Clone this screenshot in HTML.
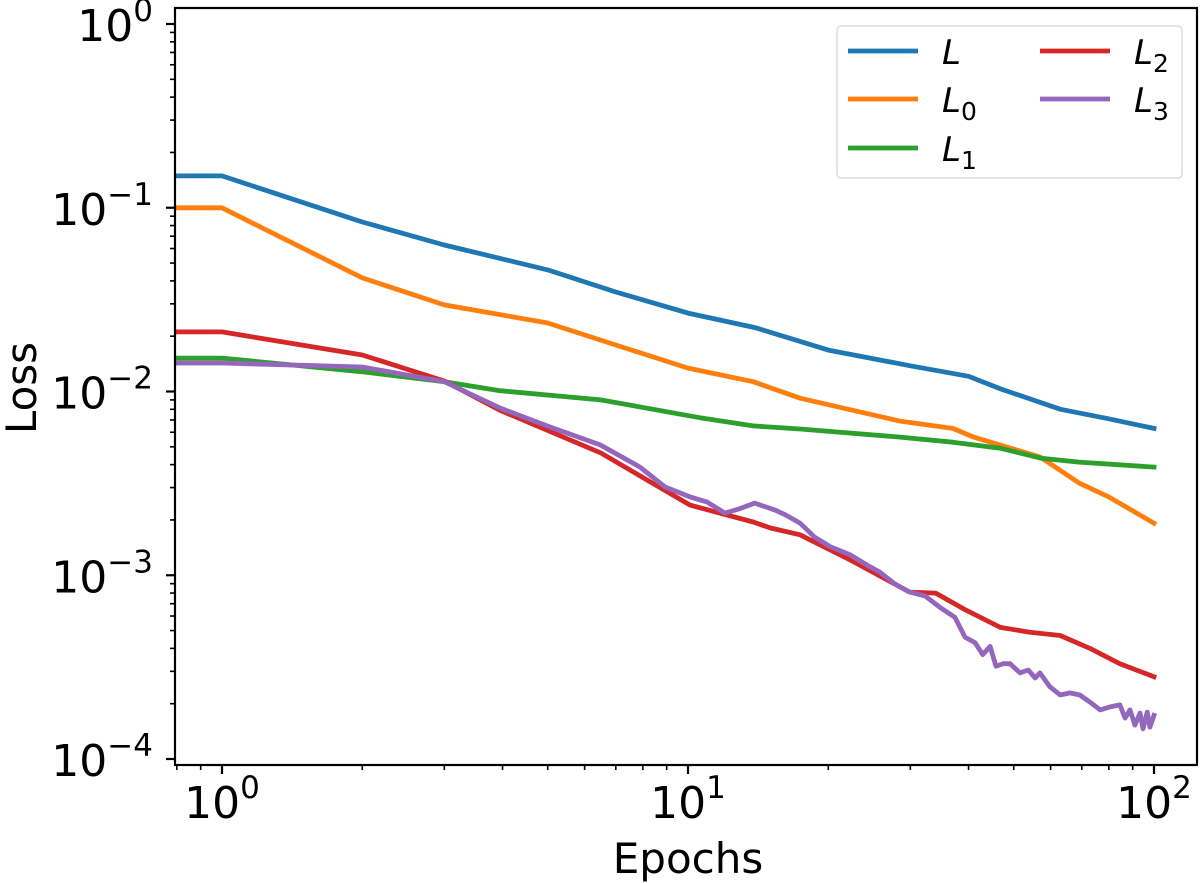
<!DOCTYPE html>
<html><head><meta charset="utf-8"><style>
body{margin:0;background:#fff}
svg{display:block;font-family:"DejaVu Sans","Liberation Sans",sans-serif}
</style></head><body>
<svg id="chart" width="1200" height="883" viewBox="0 0 1200 883">
<g id="grid"></g>
<g id="series"></g>
<g id="axes"></g>
<g id="legend"></g>
</svg>
<script>
const NS="http://www.w3.org/2000/svg";
const seriesNames=["L","L0","L1","L2","L3"];
const seriesColors=["#1f77b4","#ff7f0e","#2ca02c","#d62728","#9467bd"];
const epochsL=[0.8,1,2,3,5,7,10,14,20,30,40,47,63,80,100];
const valuesL=[0.149,0.149,0.0836,0.0627,0.0459,0.0348,0.0267,0.0222,0.0168,0.0138,0.0121,0.0103,0.0080,0.0071,0.0063];
const epochsL0=[0.8,1,2,3,5,7,10,13.8,17.4,28.5,37,41,57,69,80,100];
const valuesL0=[0.1,0.1,0.0415,0.0296,0.0236,0.0179,0.0134,0.0113,0.0092,0.0069,0.0063,0.00565,0.0044,0.00318,0.00267,0.00192];
const epochsL1=[0.8,1,2,3,3.95,6.5,10.6,13.8,17.4,28.5,37,47,57,69,100];
const valuesL1=[0.0152,0.0152,0.0128,0.0113,0.0101,0.0090,0.0072,0.0065,0.00625,0.00565,0.0053,0.0049,0.00434,0.00413,0.00388];
const epochsL2=[0.8,1,2,3,3.95,6.5,10.1,13.8,15,17.4,22.3,29.9,34,39.3,46.8,54.1,62.9,72.9,84.5,100];
const valuesL2=[0.0211,0.0211,0.0158,0.0114,0.0079,0.00463,0.00241,0.00195,0.00181,0.00166,0.00121,0.00081,0.00080,0.00065,0.00052,0.00049,0.00047,0.00040,0.00033,0.00028];
const epochsL3=[0.8,1,2,3,3.95,5.06,6.48,7.89,8.93,10.1,11,12,12.9,13.9,15.4,16.2,17.4,18.7,20.2,22.3,24.6,25.8,27.8,29.9,32.3,34.7,37.4,39.3,41.3,42.9,44.5,45.8,47.4,49.1,51.6,53.7,55.6,56.9,59.8,62.9,66,69.3,72.9,76.6,80.5,84.5,86.7,88.8,91,93.3,94.7,96.7,98,100];
const valuesL3=[0.0143,0.0143,0.0136,0.0113,0.00813,0.00641,0.00512,0.00388,0.00302,0.00267,0.0025,0.00218,0.0023,0.00247,0.00226,0.00213,0.00192,0.00161,0.00143,0.00129,0.00111,0.00104,0.000896,0.00081,0.00077,0.00067,0.00059,0.00046,0.00043,0.00037,0.00041,0.00032,0.00033,0.00033,0.000294,0.000305,0.000276,0.000294,0.000247,0.000223,0.000229,0.000223,0.000204,0.000185,0.000192,0.000197,0.000167,0.000185,0.000153,0.000178,0.000146,0.00018,0.000149,0.000173];
const yTickLabels=["-4","-3","-2","-1","0"];
const xTickLabels=["0","1","2"];

const L=175,R=1197,T=8,B=765;
const X0=222,XD=466,Y0=24,YD=183.75;
function xs(e){return X0+XD*Math.log10(e);}
function ys(v){return Y0-YD*Math.log10(v);}
function mk(tag,attrs,parent){const el=document.createElementNS(NS,tag);for(const k in attrs)el.setAttribute(k,attrs[k]);parent.appendChild(el);return el;}

const sg=document.getElementById('series');
const allE=[epochsL,epochsL0,epochsL1,epochsL2,epochsL3];
const allV=[valuesL,valuesL0,valuesL1,valuesL2,valuesL3];
const clip=mk('clipPath',{id:'pc'},document.getElementById('chart'));
mk('rect',{x:L,y:T,width:R-L,height:B-T},clip);
sg.setAttribute('clip-path','url(#pc)');
for(let s=0;s<5;s++){
  const d=allE[s].map((e,i)=>(i?'L':'M')+xs(e).toFixed(1)+' '+ys(allV[s][i]).toFixed(1)).join(' ');
  const p=mk('path',{d:d,fill:'none',stroke:seriesColors[s],'stroke-width':4.8,'stroke-linejoin':'round','stroke-linecap':'square'},sg);
  
  
}

const ax=document.getElementById('axes');
const frame=mk('rect',{x:L,y:T,width:R-L,height:B-T,fill:'none',stroke:'#000','stroke-width':2.2},ax);


for(let d=-4;d<=0;d++){
  for(let m=1;m<10;m++){
    const v=m*Math.pow(10,d);const y=ys(v);
    if(y<T||y>B)continue;
    mk('line',{x1:L,x2:L-(m==1?9:5),y1:y,y2:y,stroke:'#000','stroke-width':m==1?2.2:1.6},ax);
  }
}
yTickLabels.forEach((t,i)=>{
  const y=ys(Math.pow(10,parseInt(t)));
  const tx=mk('text',{x:153,y:y+17,'text-anchor':'end','font-size':44,fill:'#000'},ax);
  tx.innerHTML='10<tspan dy="-20" font-size="31">'+(t[0]=='-'?'\u2212'+t.slice(1):t)+'</tspan>';
  
  
});
for(let d=-1;d<=2;d++){
  for(let m=1;m<10;m++){
    const e=m*Math.pow(10,d);const x=xs(e);
    if(x<L||x>R)continue;
    mk('line',{x1:x,x2:x,y1:B,y2:B+(m==1?9:5),stroke:'#000','stroke-width':m==1?2.2:1.6},ax);
  }
}
xTickLabels.forEach(t=>{
  const x=xs(Math.pow(10,parseInt(t)));
  const tx=mk('text',{x:x,y:818,'text-anchor':'middle','font-size':44,fill:'#000'},ax);
  tx.innerHTML='10<tspan dy="-20" font-size="31">'+t+'</tspan>';
  
  
});
const xl=mk('text',{x:688,y:873,'text-anchor':'middle','font-size':42,fill:'#000'},ax);
xl.textContent='Epochs';


const yl=mk('text',{x:0,y:0,transform:'translate(36,388) rotate(-90)','text-anchor':'middle','font-size':42,fill:'#000'},ax);
yl.textContent='Loss';



const lg=document.getElementById('legend');
const box=mk('rect',{x:837,y:26,width:345,height:152,rx:4,fill:'#fff',stroke:'#ddd','stroke-width':1.5},lg);


const pos=[[848,51],[848,99],[848,148],[1040,51],[1040,99]];
for(let s=0;s<5;s++){
  const [x,y]=pos[s];
  const g=mk('g',{},lg);
  
  
  mk('line',{x1:x,x2:x+70,y1:y,y2:y,stroke:seriesColors[s],'stroke-width':4.8},g);
  const t=mk('text',{x:x+94,y:y+13,'font-size':34,'font-style':'italic',fill:'#000'},g);
  const sub=seriesNames[s].slice(1);
  t.innerHTML='L'+(sub?'<tspan dy="8" font-size="25" font-style="normal">'+sub+'</tspan>':'');
}
</script>
</body></html>
